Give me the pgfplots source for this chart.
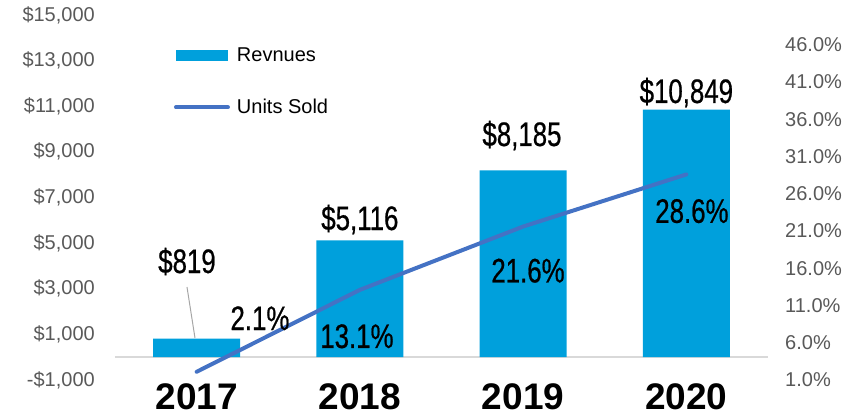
\documentclass[border=0pt]{standalone}
\usepackage{pgfplots}
\pgfplotsset{compat=1.18}
\usepackage{fontspec}
\setmainfont{Liberation Sans}
\newfontfamily\narrow[FakeStretch=0.76,FakeBold=0.6]{Liberation Sans}
\definecolor{barblue}{HTML}{00A0DC}
\definecolor{linecol}{HTML}{4472C4}
\definecolor{tickgray}{HTML}{595959}
\definecolor{leadgray}{HTML}{A6A6A6}
\definecolor{basegray}{HTML}{D9D9D9}
\newcommand{\tickfont}{\fontsize{20bp}{24bp}\selectfont}
\newcommand{\lblfont}{\narrow\fontsize{34bp}{36bp}\selectfont}
\begin{document}
\begin{tikzpicture}
\useasboundingbox (-115bp,-36bp) rectangle (748bp,380bp);
\begin{axis}[
  at={(0,0)}, anchor=south west,
  scale only axis, width=653bp, height=365bp,
  xmin=-0.5, xmax=3.5, ymin=-1000, ymax=15000,
  scaled y ticks=false,
  axis line style={draw=none}, tick style={draw=none},
  xtick={0,1,2,3}, xticklabels={2017,2018,2019,2020},
  xticklabel style={font=\fontsize{37bp}{40bp}\selectfont\bfseries, text=black, inner sep=0pt, yshift=-3bp},
  ytick={-1000,1000,3000,5000,7000,9000,11000,13000,15000},
  yticklabels={-\$1{,}000,\$1{,}000,\$3{,}000,\$5{,}000,\$7{,}000,\$9{,}000,\$11{,}000,\$13{,}000,\$15{,}000},
  yticklabel style={font=\tickfont, text=tickgray, inner sep=0pt, xshift=-20bp},
  extra y ticks={0}, extra y tick labels={},
  extra y tick style={grid=major, major grid style={draw=basegray, line width=1.5bp}},
  legend style={at={(axis description cs:0.09,0.91)}, anchor=north west, draw=none, fill=none,
    font=\tickfont, row sep=36bp, inner sep=0pt, column sep=7bp,
    nodes={inner sep=0pt, text=black}},
  legend cell align=left,
  clip=false,
]
\addplot[ybar, bar width=87bp, fill=barblue, draw=none,
  legend image code/.code={\fill[barblue] (0bp,-5.5bp) rectangle (52bp,5.5bp);}]
  coordinates {(0,819) (1,5116) (2,8185) (3,10849)};
\addlegendentry{Revnues}
\addlegendimage{legend image code/.code={\draw[linecol, line width=4bp, line cap=round] (0bp,0bp) -- (52bp,0bp);}}
\addlegendentry{Units Sold}
\draw[leadgray, line width=1bp] (axis cs:-0.059,3077) -- (axis cs:-0.01,841);
\node[anchor=base, inner sep=0pt, font=\lblfont] at (axis cs:-0.059,3690) {\$819};
\node[anchor=base, inner sep=0pt, font=\lblfont] at (axis cs:1.0,5575) {\$5,116};
\node[anchor=base, inner sep=0pt, font=\lblfont] at (axis cs:1.993,9258) {\$8,185};
\node[anchor=base, inner sep=0pt, font=\lblfont] at (axis cs:3.0,11143) {\$10,849};
\end{axis}
\begin{axis}[
  at={(0,0)}, anchor=south west,
  scale only axis, width=653bp, height=365bp,
  xmin=-0.5, xmax=3.5, ymin=1, ymax=50,
  axis x line=none, axis y line*=right,
  axis line style={draw=none}, tick style={draw=none},
  ytick={1,6,11,16,21,26,31,36,41,46},
  yticklabels={1.0\%,6.0\%,11.0\%,16.0\%,21.0\%,26.0\%,31.0\%,36.0\%,41.0\%,46.0\%},
  yticklabel style={font=\tickfont, text=tickgray, inner sep=0pt, xshift=17bp},
  clip=false,
]
\addplot[linecol, line width=4bp, line cap=round] coordinates {(0,2.1) (1,13.1) (2,21.6) (3,28.6)};
\node[anchor=base, inner sep=0pt, font=\lblfont] at (axis cs:0.388,7.71) {2.1\%};
\node[anchor=base, inner sep=0pt, font=\lblfont] at (axis cs:0.982,5.3) {13.1\%};
\node[anchor=base, inner sep=0pt, font=\lblfont] at (axis cs:2.03,14.1) {21.6\%};
\node[anchor=base, inner sep=0pt, font=\lblfont] at (axis cs:3.034,22.1) {28.6\%};
\end{axis}
\end{tikzpicture}
\end{document}
